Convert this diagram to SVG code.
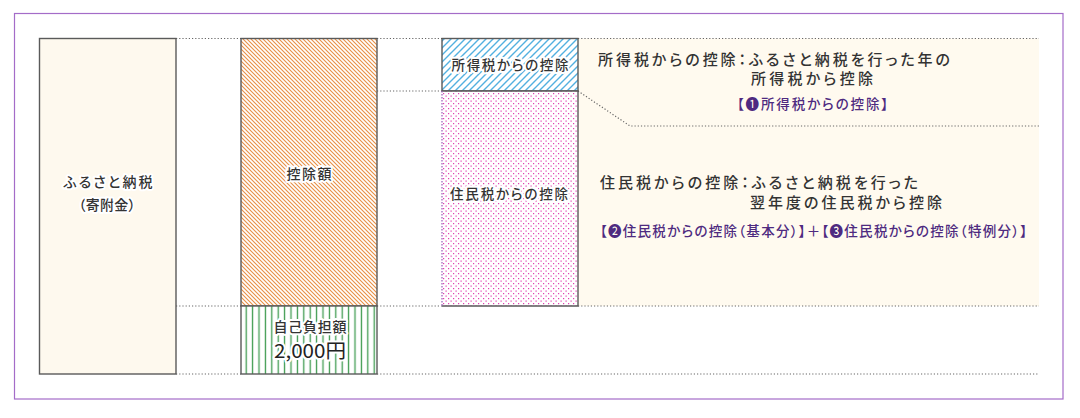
<svg xmlns="http://www.w3.org/2000/svg" width="1080" height="418" viewBox="0 0 1080 418">
<style>
.t{font-family:"Noto Sans CJK JP","Noto Sans",sans-serif;fill:#333;font-weight:500;font-feature-settings:"palt"}
.h{stroke:#fff;stroke-width:4;stroke-linejoin:round;paint-order:stroke}
.p{fill:#4e2a80}
.box{stroke:#5a5a5a;stroke-width:1.4}
.dot{fill:none;stroke:#666;stroke-width:1.2;stroke-dasharray:1.2 2}
</style>
<defs>
<pattern id="orange" width="4" height="4" patternUnits="userSpaceOnUse">
<rect width="4" height="4" fill="#fff"/>
<path d="M-1,-1L5,5M-1,3L1,5M3,-1L5,1" stroke="#e88f44" stroke-width="1.1"/>
</pattern>
<pattern id="blue" width="7" height="7" patternUnits="userSpaceOnUse">
<rect width="7" height="7" fill="#fff"/>
<path d="M-1,8L8,-1M-1,1L1,-1M6,8L8,6" stroke="#52b0e0" stroke-width="1.4"/>
</pattern>
<pattern id="pink" width="5" height="5" patternUnits="userSpaceOnUse">
<rect width="5" height="5" fill="#fff"/>
<rect x="0.5" y="0.5" width="1.2" height="1.2" fill="#e040b0"/>
<rect x="3" y="3" width="1.2" height="1.2" fill="#e040b0"/>
</pattern>
<pattern id="green" width="6.4" height="10" patternUnits="userSpaceOnUse" x="243">
<rect width="6.4" height="10" fill="#fff"/>
<path d="M3.2,0V10" stroke="#3d9a4e" stroke-width="1.3"/>
</pattern>
</defs>
<rect x="14.5" y="13.5" width="1048.5" height="385.5" fill="#fff" stroke="#a46cc8" stroke-width="1.2"/>
<rect x="578" y="38.5" width="461" height="267.5" fill="#fffaef"/>
<g id="connectors">
<path class="dot" d="M176,38.5H241M377,38.5H442M578,38.5H1039"/>
<path class="dot" d="M377,91H442M578,91L630,126H1039"/>
<path class="dot" d="M176,306H241M377,306H442M578,306H1039"/>
<path class="dot" d="M176,374H241M377,374H1039"/>
</g>
<g id="furusato">
<rect class="box" x="39.5" y="38.5" width="136.5" height="335.5" fill="#fef9ee"/>
<text class="t h" x="108" y="187" font-size="14" text-anchor="middle" textLength="89" lengthAdjust="spacing">ふるさと納税</text>
<text class="t h" x="107" y="210" font-size="14" text-anchor="middle" textLength="57" lengthAdjust="spacing">（寄附金）</text>
</g>
<g id="koujogaku">
<rect class="box" x="241" y="38.5" width="136" height="267.5" fill="url(#orange)"/>
<text class="t h" x="309" y="179" font-size="14" text-anchor="middle" textLength="45" lengthAdjust="spacing">控除額</text>
</g>
<g id="jikofutan">
<rect class="box" x="241" y="306" width="136" height="68" fill="url(#green)"/>
<text class="t h" x="310" y="332" font-size="14" text-anchor="middle" textLength="73" lengthAdjust="spacing">自己負担額</text>
<text class="t h" x="310" y="358" font-size="19" text-anchor="middle" textLength="72" lengthAdjust="spacingAndGlyphs" style="fill:#222;font-weight:400">2,000円</text>
</g>
<g id="shotokuzei">
<rect class="box" x="442" y="38.5" width="136" height="52.5" fill="url(#blue)"/>
<text class="t h" x="510" y="70" font-size="13.5" text-anchor="middle" textLength="117" lengthAdjust="spacing">所得税からの控除</text>
</g>
<g id="juminzei">
<rect x="442" y="91" width="136" height="215" fill="url(#pink)"/>
<path d="M442,91H578V306H442" fill="none" stroke="#5a5a5a" stroke-width="1.4"/>
<path d="M442,91V306" fill="none" stroke="#9a5ab8" stroke-width="1.2" stroke-dasharray="1.5 1.5"/>
<text class="t h" x="509" y="199" font-size="13.5" text-anchor="middle" textLength="118" lengthAdjust="spacing">住民税からの控除</text>
</g>
<g id="note-shotoku">
<text class="t" x="598" y="64.5" font-size="15" textLength="352" lengthAdjust="spacing">所得税からの控除：ふるさと納税を行った年の</text>
<text class="t" x="751" y="84" font-size="15" textLength="122" lengthAdjust="spacing">所得税から控除</text>
<text class="t p" x="737" y="108.5" font-size="13.5" textLength="151" lengthAdjust="spacing">【❶所得税からの控除】</text>
</g>
<g id="note-jumin">
<text class="t" x="600" y="188" font-size="15" textLength="318" lengthAdjust="spacing">住民税からの控除：ふるさと納税を行った</text>
<text class="t" x="750" y="208" font-size="15" textLength="192" lengthAdjust="spacing">翌年度の住民税から控除</text>
<text class="t p" x="600" y="235.5" font-size="13.5" textLength="427" lengthAdjust="spacing">【❷住民税からの控除（基本分）】＋【❸住民税からの控除（特例分）】</text>
</g>
</svg>
